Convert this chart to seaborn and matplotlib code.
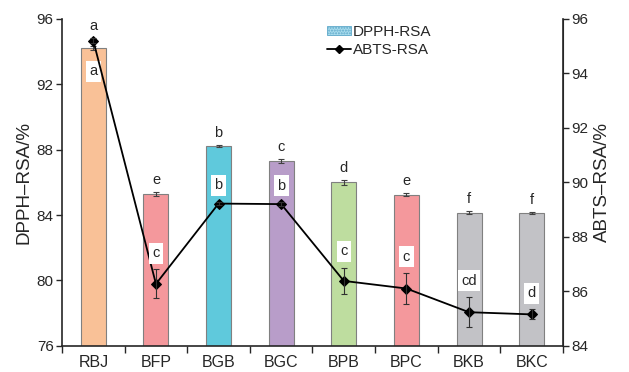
import numpy as np
import pandas as pd
import matplotlib
matplotlib.use("Agg")
import matplotlib.pyplot as plt
from matplotlib.patches import Patch
from matplotlib.lines import Line2D
import seaborn as sns

# data
samples = ['RBJ', 'BFP', 'BGB', 'BGC', 'BPB', 'BPC', 'BKB', 'BKC']
dpph = [94.2, 85.28, 88.22, 87.32, 86.0, 85.25, 84.15, 84.12]
dpph_err = [0.12, 0.13, 0.06, 0.12, 0.14, 0.08, 0.1, 0.07]
abts = [95.2, 86.27, 89.22, 89.2, 86.38, 86.1, 85.23, 85.15]
abts_err = [0.1, 0.53, 0.07, 0.08, 0.49, 0.56, 0.55, 0.18]
dpph_letters = ['a', 'e', 'b', 'c', 'd', 'e', 'f', 'f']
abts_letters = ['a', 'c', 'b', 'b', 'c', 'c', 'cd', 'd']
bar_colors = ['#F9C197', '#F4989C', '#5FC9DC', '#B89DC9', '#BEDD9F', '#F4989C', '#C2C2C6', '#C2C2C6']

sns.set_style('ticks')
plt.rcParams['font.family'] = ['Liberation Sans', 'DejaVu Sans']

df = pd.DataFrame({'sample': samples, 'dpph': dpph})
x = np.arange(len(samples))

fig = plt.figure(figsize=(6.29, 3.72), dpi=100)
ax = fig.add_axes([0.0986, 0.0707, 0.7964, 0.8783])

sns.barplot(data=df, x='sample', y='dpph', hue='sample', palette=bar_colors,
            legend=False, width=0.4, errorbar=None, ax=ax,
            edgecolor='#808080', linewidth=0.8, saturation=1)
ax.errorbar(x, dpph, yerr=dpph_err, fmt='none', ecolor='#404040',
            elinewidth=0.8, capsize=2.5, capthick=0.8)

ax.set_ylim(76, 96)
ax.set_yticks([76, 80, 84, 88, 92, 96])
ax.set_xlim(-0.5, 7.5)
ax.set_xlabel('')
ax.set_ylabel('DPPH\u2013RSA/%', fontsize=13.5, labelpad=3)
ax.tick_params(axis='y', labelsize=11, direction='out', length=4, width=1, pad=2)
ax.tick_params(axis='x', which='major', labelsize=11.5, length=0, pad=7)
ax.set_xticks(np.arange(-0.5, 8, 1), minor=True)
ax.tick_params(axis='x', which='minor', direction='out', length=5, width=1)
for s in ['left', 'bottom']:
    ax.spines[s].set_linewidth(1.2)
ax.spines['top'].set_visible(False)

ax2 = ax.twinx()
sns.lineplot(x=x, y=abts, ax=ax2, color='black', marker='D', markersize=5.5,
             linewidth=1.3, markeredgecolor='black')
ax2.errorbar(x, abts, yerr=abts_err, fmt='none', ecolor='#303030',
             elinewidth=0.8, capsize=2.5, capthick=0.8)
ax2.set_ylim(84, 96)
ax2.set_yticks([84, 86, 88, 90, 92, 94, 96])
ax2.set_ylabel('ABTS\u2013RSA/%', fontsize=13.5, labelpad=4)
ax2.tick_params(axis='y', labelsize=11, direction='out', length=4, width=1, pad=2)
ax2.spines['right'].set_linewidth(1.2)
ax2.spines['top'].set_visible(False)
ax2.spines['left'].set_visible(False)
ax2.spines['bottom'].set_visible(False)

# significance letters
for i in range(len(samples)):
    if i == 0:
        ax2.text(i, abts[i] + 0.3, dpph_letters[i], ha='center', va='bottom', fontsize=10.5)
        ax.text(i, dpph[i] - 1.4, abts_letters[i], ha='center', va='center', fontsize=10.5,
                bbox=dict(facecolor='white', edgecolor='none', pad=2.5))
    else:
        ax.text(i, dpph[i] + dpph_err[i] + 0.3, dpph_letters[i], ha='center',
                va='bottom', fontsize=10.5)
        ax2.text(i, abts[i] + abts_err[i] + 0.6, abts_letters[i], ha='center',
                 va='center', fontsize=10.5,
                 bbox=dict(facecolor='white', edgecolor='none', pad=2.5))

handles = [Patch(facecolor='#A9DDEE', edgecolor='#5FA8C9', hatch='......', linewidth=0.6),
           Line2D([0], [0], color='black', marker='D', markersize=4, linewidth=1.3)]
ax2.legend(handles, ['DPPH-RSA', 'ABTS-RSA'], loc='upper left',
           bbox_to_anchor=(0.513, 1.005), frameon=False, fontsize=11, borderpad=0,
           handlelength=1.6, handleheight=0.5, handletextpad=0.1, labelspacing=0.25)

fig.savefig('out.png', dpi=100)
